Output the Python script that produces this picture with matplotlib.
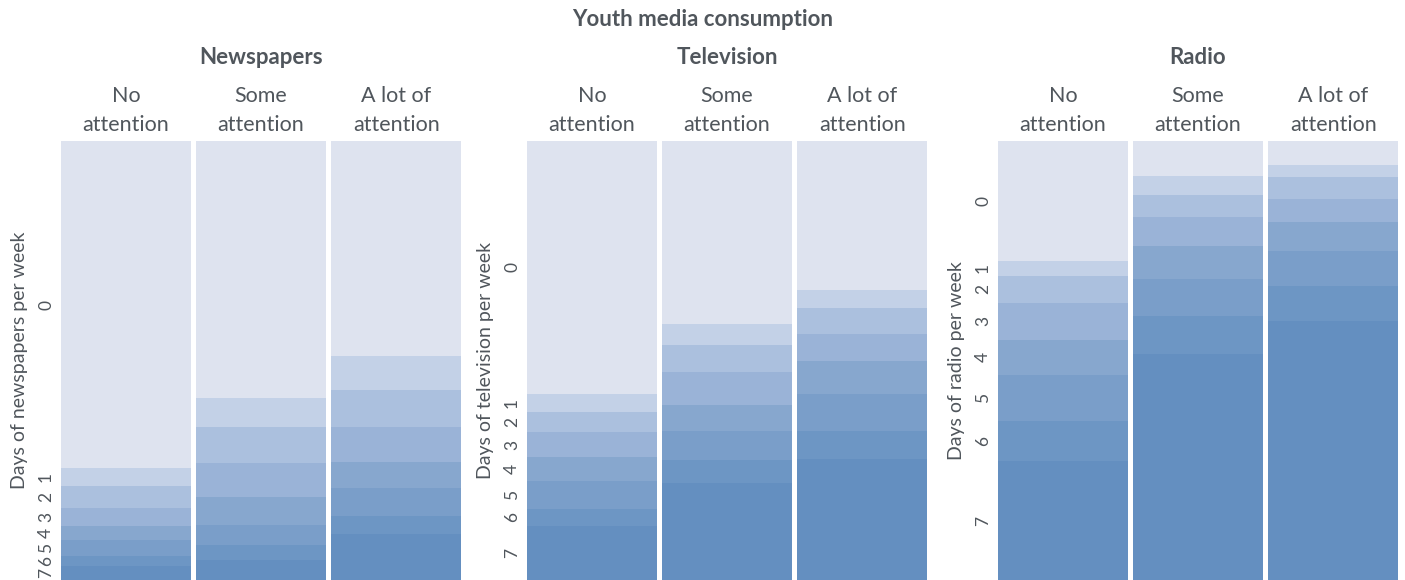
import matplotlib
import matplotlib.pyplot as plt
import numpy as np

matplotlib.use('Agg')
plt.rcParams['font.family'] = ['Lato', 'DejaVu Sans']

# share of respondents (%) by days per week, for each attention level
days = ['0', '1', '2', '3', '4', '5', '6', '7']
attention = ['No\nattention', 'Some\nattention', 'A lot of\nattention']
media = ['Newspapers', 'Television', 'Radio']
ylabels = ['Days of newspapers per week', 'Days of television per week', 'Days of radio per week']

newspapers = [
    [74.5, 4.1, 5.0, 4.1, 3.2, 3.6, 2.3, 3.2],
    [58.5, 6.6, 8.2, 7.9, 6.2, 4.6, 3.4, 4.6],
    [49.0, 7.7, 8.4, 8.0, 5.9, 6.4, 4.1, 10.5],
]
television = [
    [57.6, 4.1, 4.6, 5.7, 5.4, 6.4, 3.9, 12.3],
    [41.7, 4.8, 6.2, 7.5, 5.9, 6.6, 5.2, 22.1],
    [33.9, 4.1, 5.9, 6.2, 7.5, 8.4, 6.4, 27.6],
]
radio = [
    [27.3, 3.4, 6.2, 8.4, 8.0, 10.5, 9.1, 27.1],
    [8.0, 4.3, 5.0, 6.6, 7.5, 8.4, 8.7, 51.5],
    [5.5, 2.7, 5.0, 5.2, 6.6, 8.0, 8.0, 59.0],
]

colors = ['#dee3ef', '#c3d1e7', '#abc0de', '#9ab3d7', '#87a7ce', '#7a9ec9', '#6d96c4', '#648fc0']
text_color = '#50565c'

W, H = 1405, 580
fig = plt.figure(figsize=(W / 100, H / 100), dpi=100)

panel_left = [61, 527, 998]
panel_w = 400
top_px = 141
ax_h = (H - top_px) / H

fig.text(0.5, 1 - 20 / H, 'Youth media consumption', ha='center', va='center',
         fontsize=16, fontweight='bold', color=text_color)

for p, (name, data) in enumerate(zip(media, [newspapers, television, radio])):
    ax = fig.add_axes([panel_left[p] / W, 0, panel_w / W, ax_h])
    data = np.array(data)
    x = np.arange(len(attention))
    bottom = np.zeros(len(attention))
    for d in range(len(days)):
        ax.bar(x, data[:, d], bottom=bottom, width=0.96, color=colors[d], linewidth=0)
        bottom += data[:, d]
    ax.set_xlim(-0.48, 2.48)
    ax.set_ylim(100, 0)
    for s in ax.spines.values():
        s.set_visible(False)
    ax.set_xticks([])
    # ticks at middle of segments in the first column
    cum = np.cumsum(data[0])
    mids = cum - data[0] / 2
    ax.set_yticks(mids)
    ax.set_yticklabels(days, rotation=90, va='center', fontsize=12.5, color=text_color)
    ax.tick_params(axis='y', length=0, pad=5)
    ax.set_ylabel(ylabels[p], fontsize=14, color=text_color, labelpad=7)

    cx = (panel_left[p] + panel_w / 2) / W
    fig.text(cx, 1 - 58 / H, name, ha='center', va='center', fontsize=16,
             fontweight='bold', color=text_color)
    for i, lab in enumerate(attention):
        lines = lab.split('\n')
        for j, line in enumerate(lines):
            ax.text(x[i], 1 - (96 + 29 * j - top_px) / (H - top_px), line,
                    transform=ax.get_xaxis_transform(), ha='center', va='center',
                    fontsize=15.5, color=text_color)

fig.savefig('out.png', dpi=100)
